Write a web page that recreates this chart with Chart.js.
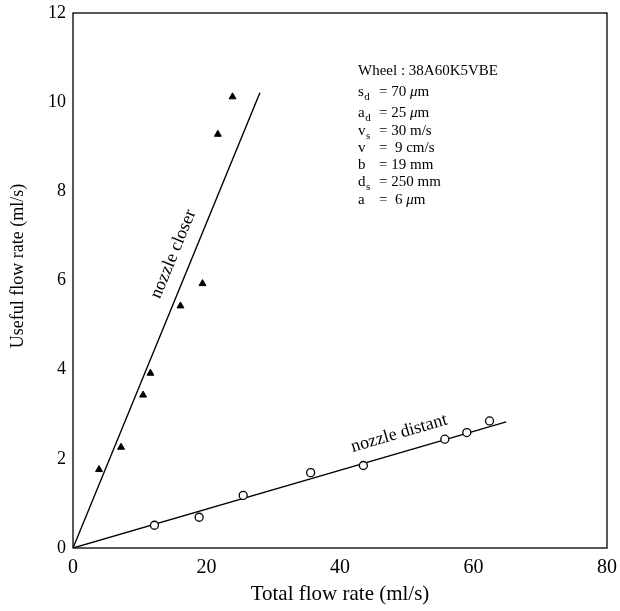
<!DOCTYPE html>
<html>
<head>
<meta charset="utf-8">
<script src="https://cdn.jsdelivr.net/npm/chart.js@4.4.1/dist/chart.umd.min.js"></script>
<style>
  body { margin: 0; background: #fff; }
</style>
</head>
<body>
<canvas id="flowChart" width="620" height="611"></canvas>
<script>
// nozzle closer (triangles)
var closerX = [3.9, 7.2, 10.5, 11.6, 16.1, 19.4, 21.7, 23.9];
var closerY = [1.76, 2.26, 3.43, 3.92, 5.43, 5.93, 9.28, 10.12];
var closerFitX = [0, 28.0];
var closerFitY = [0, 10.21];

// nozzle distant (circles)
var distantX = [12.2, 18.9, 25.5, 35.6, 43.5, 55.7, 59.0, 62.4];
var distantY = [0.51, 0.69, 1.18, 1.69, 1.85, 2.44, 2.59, 2.85];
var distantFitX = [0, 64.9];
var distantFitY = [0, 2.83];

var xTicks = [0, 20, 40, 60, 80];
var yTicks = [0, 2, 4, 6, 8, 10, 12];

// conditions box: [symbol, subscript, value]
var condName = ['Wheel : 38A60K5VBE', 's', 'a', 'v', 'v', 'b', 'd', 'a'];
var condSub = ['', 'd', 'd', 's', '', '', 's', ''];
var condValue = ['', '= 70 ', '= 25 ', '= 30 m/s', '=  9 cm/s', '= 19 mm', '= 250 mm', '=  6 '];
var condMicro = [false, true, true, false, false, false, false, true];

function pts(xs, ys) {
    return xs.map(function(x, i) { return {x: x, y: ys[i]}; });
}

var serif = "'Liberation Serif', 'Times New Roman', serif";

var extras = {
    id: 'extras',
    afterDatasetsDraw: function(chart) {
        var ctx = chart.ctx;
        var a = chart.chartArea;
        var xs = chart.scales.x, ys = chart.scales.y;
        ctx.save();
        // frame
        ctx.strokeStyle = '#000';
        ctx.lineWidth = 1.3;
        ctx.strokeRect(a.left, a.top, a.right - a.left, a.bottom - a.top);

        ctx.fillStyle = '#000';

        // y title (sits a bit above the axis middle in the original)
        ctx.save();
        ctx.font = '18px ' + serif;
        ctx.textAlign = 'center';
        ctx.textBaseline = 'middle';
        ctx.translate(18, 266);
        ctx.rotate(-Math.PI / 2);
        ctx.fillText('Useful flow rate (ml/s)', 0, 0);
        ctx.restore();

        // line labels, rotated along each fit line
        ctx.font = '18px ' + serif;
        ctx.textAlign = 'center';
        ctx.textBaseline = 'alphabetic';
        function lineLabel(text, fx, fy, t, off) {
            var x0 = xs.getPixelForValue(fx[0]), y0 = ys.getPixelForValue(fy[0]);
            var x1 = xs.getPixelForValue(fx[1]), y1 = ys.getPixelForValue(fy[1]);
            var ang = Math.atan2(y1 - y0, x1 - x0);
            ctx.save();
            ctx.translate(x0 + (x1 - x0) * t, y0 + (y1 - y0) * t);
            ctx.rotate(ang);
            ctx.fillText(text, 0, -off);
            ctx.restore();
        }
        lineLabel('nozzle closer', closerFitX, closerFitY, 0.63, 14);
        lineLabel('nozzle distant', distantFitX, distantFitY, 0.765, 14);

        // conditions text
        var rowsY = [71, 92, 113, 131, 148, 165, 182, 200];
        var left = 358, eqX = 379;
        ctx.textAlign = 'left';
        ctx.textBaseline = 'middle';
        condName.forEach(function(name, i) {
            var y = rowsY[i];
            ctx.font = '15px ' + serif;
            ctx.fillText(name, left, y);
            if (i === 0) return;
            var w = ctx.measureText(name).width;
            if (condSub[i]) {
                ctx.font = '11px ' + serif;
                ctx.fillText(condSub[i], left + w + 0.5, y + 5);
            }
            ctx.font = '15px ' + serif;
            ctx.fillText(condValue[i], eqX, y);
            if (condMicro[i]) {
                var vw = ctx.measureText(condValue[i]).width;
                ctx.font = 'italic 15px ' + serif;
                ctx.fillText('\u03bc', eqX + vw, y);
                var mw = ctx.measureText('\u03bc').width;
                ctx.font = '15px ' + serif;
                ctx.fillText('m', eqX + vw + mw, y);
            }
        });
        ctx.restore();
    }
};

var chart = new Chart(document.getElementById('flowChart').getContext('2d'), {
    type: 'scatter',
    data: {
        datasets: [{
            data: pts(closerX, closerY),
            pointStyle: 'triangle',
            pointRadius: 4,
            backgroundColor: '#000',
            borderColor: '#000',
            borderWidth: 1,
            showLine: false
        }, {
            data: pts(distantX, distantY),
            pointStyle: 'circle',
            pointRadius: 4,
            backgroundColor: '#fff',
            borderColor: '#000',
            borderWidth: 1.3,
            showLine: false
        }, {
            type: 'line',
            data: pts(closerFitX, closerFitY),
            borderColor: '#000',
            borderWidth: 1.4,
            pointRadius: 0,
            fill: false
        }, {
            type: 'line',
            data: pts(distantFitX, distantFitY),
            borderColor: '#000',
            borderWidth: 1.4,
            pointRadius: 0,
            fill: false
        }]
    },
    options: {
        responsive: false,
        animation: false,
        layout: { padding: { top: 13, right: 13, left: 0, bottom: 0 } },
        plugins: {
            legend: { display: false },
            tooltip: { enabled: false }
        },
        scales: {
            x: {
                type: 'linear',
                min: 0, max: 80,
                afterBuildTicks: function(s) { s.ticks = xTicks.map(function(v) { return {value: v}; }); },
                grid: { display: false, drawTicks: false },
                border: { display: false },
                ticks: { color: '#000', padding: 8, maxRotation: 0, font: { family: serif, size: 20 } },
                title: { display: true, text: 'Total flow rate (ml/s)', color: '#000', padding: { top: 1 }, font: { family: serif, size: 21 } },
                afterFit: function(s) { s.height = 63; s.paddingRight = 0; s.paddingLeft = 0; }
            },
            y: {
                type: 'linear',
                min: 0, max: 12,
                afterBuildTicks: function(s) { s.ticks = yTicks.map(function(v) { return {value: v}; }); },
                grid: { display: false, drawTicks: false },
                border: { display: false },
                ticks: { color: '#000', padding: 7, font: { family: serif, size: 18 } },
                title: { display: false },
                afterFit: function(s) { s.width = 73; s.paddingTop = 0; s.paddingBottom = 0; }
            }
        }
    },
    plugins: [extras]
});
</script>
</body>
</html>
